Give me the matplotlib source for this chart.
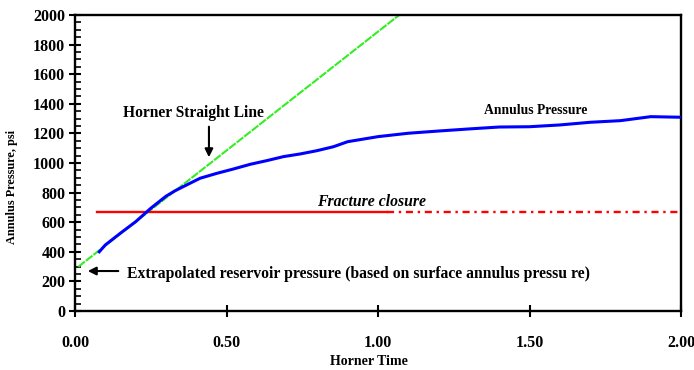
import numpy as np
import matplotlib.pyplot as plt

plt.rcParams['font.family'] = ['Liberation Serif', 'DejaVu Serif']
plt.rcParams['font.weight'] = 'bold'

# annulus pressure build-up vs Horner time
horner_time = [0.08, 0.10, 0.15, 0.20, 0.25, 0.30, 0.33, 0.357, 0.413, 0.468, 0.522,
               0.578, 0.633, 0.688, 0.743, 0.798, 0.853, 0.90, 1.00, 1.10, 1.20,
               1.30, 1.40, 1.50, 1.60, 1.70, 1.80, 1.90, 2.00]
annulus_psi = [400, 446, 526, 603, 694, 775, 812, 840, 897, 930, 959,
               991, 1016, 1043, 1061, 1083, 1110, 1144, 1178, 1201, 1216,
               1230, 1243, 1245, 1257, 1275, 1286, 1313, 1309]

# Horner straight line through the early-time data
line_time = [0.011, 1.07]
line_psi = [299, 2000]

# fracture closure level
closure_psi = 670
closure_solid = [0.072, 1.03]
closure_dashed = [1.03, 1.99]

fig = plt.figure(figsize=(6.94, 3.70), dpi=100)
ax = fig.add_axes([0.1081, 0.1595, 0.8732, 0.8])

ax.plot(line_time, line_psi, color='#33ee22', lw=1.5, ls=(0, (4, 0.6)), zorder=2)
ax.plot(closure_solid, [closure_psi] * 2, color='#ff0000', lw=1.7, zorder=3)
ax.plot(closure_dashed, [closure_psi] * 2, color='#ff0000', lw=1.7,
        ls=(0, (3, 2, 1, 2)), zorder=3)
ax.plot(horner_time, annulus_psi, color='#0000ff', lw=2.2, zorder=4)

ax.set_xlim(0, 2)
ax.set_ylim(0, 2000)
ax.set_xticks([0, 0.5, 1.0, 1.5, 2.0])
ax.set_xticklabels(['0.00', '0.50', '1.00', '1.50', '2.00'])
ax.set_yticks(np.arange(0, 2001, 200))
ax.set_yticks(np.arange(0, 2001, 50), minor=True)

for s in ax.spines.values():
    s.set_linewidth(1.7)
ax.tick_params(axis='both', which='major', direction='inout', length=8,
               width=1.5, labelsize=11.5)
ax.tick_params(axis='y', which='minor', direction='in', length=4, width=1.2)
ax.tick_params(axis='x', which='major', pad=13)
ax.tick_params(axis='y', which='major', pad=3)
for lab in ax.get_xticklabels() + ax.get_yticklabels():
    lab.set_fontweight('bold')

ax.set_xlabel('Horner Time', fontsize=10, fontweight='bold')
ax.set_ylabel('Annulus Pressure, psi', fontsize=8.8, fontweight='bold')
ax.xaxis.set_label_coords(0.485, -0.148)
ax.yaxis.set_label_coords(-0.094, 0.419)

ax.text(0.39, 1335, 'Horner Straight Line', fontsize=11.2, fontweight='bold',
        ha='center', va='center')
ax.annotate('', xy=(0.442, 1020), xytext=(0.442, 1264),
            arrowprops=dict(arrowstyle='-|>', color='black', lw=1.5,
                            mutation_scale=12))
ax.text(1.52, 1355, 'Annulus Pressure', fontsize=9.8, fontweight='bold',
        ha='center', va='center')
ax.text(0.977, 735, 'Fracture closure', fontsize=11.3, fontweight='bold',
        style='italic', ha='center', va='center')
ax.text(0.172, 252, 'Extrapolated reservoir pressure (based on surface annulus pressu re)',
        fontsize=11.3, fontweight='bold', ha='left', va='center')
ax.annotate('', xy=(0.033, 270), xytext=(0.152, 270),
            arrowprops=dict(arrowstyle='-|>', color='black', lw=1.5,
                            mutation_scale=12))

fig.savefig('out.png', dpi=100)
